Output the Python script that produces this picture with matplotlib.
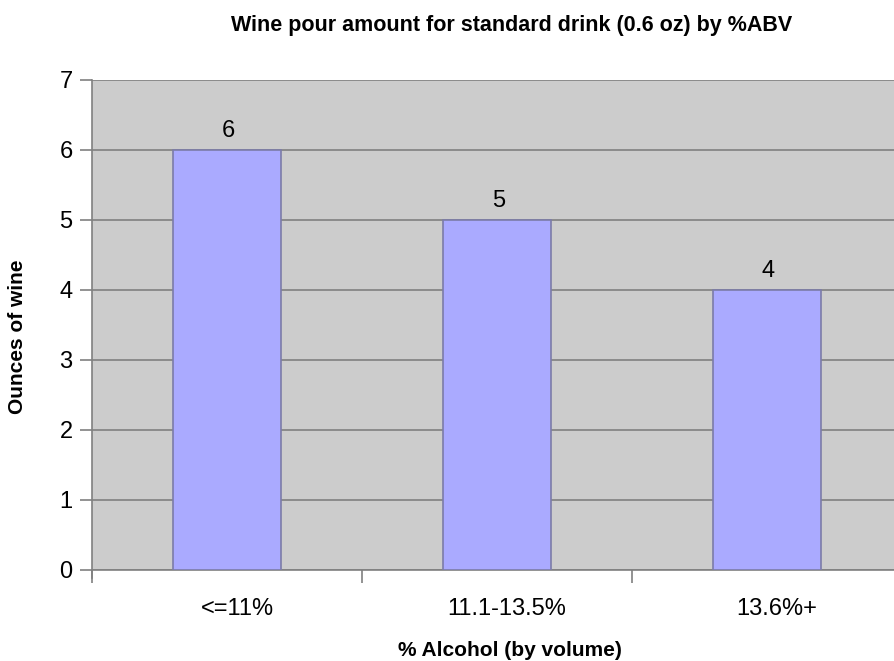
import matplotlib.pyplot as plt
import matplotlib.transforms as mtransforms

# data
categories = ["<=11%", "11.1-13.5%", "13.6%+"]
ounces = [6, 5, 4]
y_ticks = [0, 1, 2, 3, 4, 5, 6, 7]

plt.rcParams["font.family"] = ["Liberation Sans", "DejaVu Sans"]

W, H = 894, 661
fig = plt.figure(figsize=(W / 100, H / 100), dpi=100)
# plot area runs past the right edge, like the original
ax = fig.add_axes([92 / W, 1 - 570 / H, 810 / W, 490 / H])
ax.set_facecolor("#CCCCCC")

x = list(range(len(categories)))
ax.bar(x, ounces, width=0.4, color="#AAAAFF", edgecolor="#7C7CA8", linewidth=1.2, zorder=3)

for xi, v in zip(x, ounces):
    ax.annotate(str(v), (xi, v), xytext=(1, 6), textcoords="offset points",
                ha="center", va="bottom", fontsize=17)

ax.set_xlim(-0.5, 2.5)
ax.set_ylim(0, 7)
ax.set_yticks(y_ticks)
ax.set_yticklabels([str(t) for t in y_ticks], fontsize=17)
ax.yaxis.grid(True, color="#808080", linewidth=1.2, zorder=1)

# category labels centred, ticks between categories
ax.set_xticks(x)
ax.set_xticklabels(categories, fontsize=17)
ax.tick_params(axis="x", length=0, pad=20)
shift = mtransforms.ScaledTranslation(10 / 100, 0, fig.dpi_scale_trans)
for lbl in ax.get_xticklabels():
    lbl.set_transform(lbl.get_transform() + shift)
ax.set_xticks([-0.5, 0.5, 1.5, 2.5], minor=True)
ax.tick_params(axis="x", which="minor", length=9, color="#808080", width=1.2, direction="out")
ax.tick_params(axis="y", length=9, color="#808080", width=1.2, direction="out", pad=5)

for side in ["top", "right"]:
    ax.spines[side].set_visible(False)
ax.spines["left"].set_color("#808080")
ax.spines["left"].set_linewidth(1.2)
ax.spines["left"].set_bounds(-0.12, 7)
ax.spines["bottom"].set_color("#808080")
ax.spines["bottom"].set_linewidth(1.2)

fig.text(510 / W, 1 - 650 / H, "% Alcohol (by volume)", ha="center", va="center",
         fontsize=15, fontweight="bold")
fig.text(18 / W, 1 - 337 / H, "Ounces of wine", ha="center", va="center",
         rotation=90, fontsize=15, fontweight="bold")
fig.text(512 / W, 1 - 25 / H, "Wine pour amount for standard drink (0.6 oz) by %ABV",
         ha="center", va="center", fontsize=15.5, fontweight="bold")

fig.savefig("out.png", dpi=100)
